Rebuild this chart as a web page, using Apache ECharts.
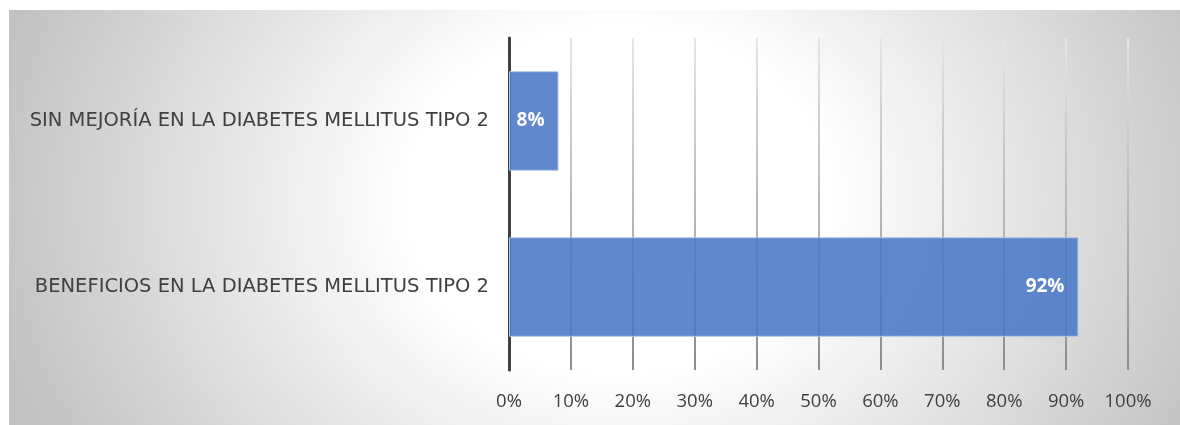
<!DOCTYPE html>
<html><head><meta charset="utf-8">
<script src="https://cdn.jsdelivr.net/npm/echarts@6/dist/echarts.min.js"></script>
<style>
html,body{margin:0;padding:0;background:#fff;}
#bg{position:absolute;left:9px;top:10px;width:1171px;height:415px;
background:radial-gradient(ellipse 640px 520px at 610px 190px,#ffffff 0%,#ffffff 33%,#c2c2c2 100%);}
#c{position:absolute;left:0;top:0;width:1180px;height:425px;}
</style></head>
<body><div id="bg"></div><div id="c"></div>
<script>
const categories = ['BENEFICIOS EN LA DIABETES MELLITUS TIPO 2', 'SIN MEJORÍA EN LA DIABETES MELLITUS TIPO 2'];
const values = [92, 8];
const xTicks = [0, 10, 20, 30, 40, 50, 60, 70, 80, 90, 100];

const chart = echarts.init(document.getElementById('c'));
chart.setOption({
  backgroundColor: 'transparent',
  animation: false,
  grid: {left: 509, right: 52, top: 38, bottom: 55},
  xAxis: {
    type: 'value', min: xTicks[0], max: xTicks[xTicks.length-1], interval: 10,
    axisLine: {show: false}, axisTick: {show: false},
    axisLabel: {formatter: v => v + '%', color: '#404040', fontSize: 18.5, fontFamily: 'Open Sans', margin: 22},
    splitLine: {show: true, lineStyle: {width: 2, color: new echarts.graphic.LinearGradient(0, 38, 0, 370, [
      {offset: 0, color: '#e6e6e6'}, {offset: 1, color: '#8c8c8c'}], true)}}
  },
  yAxis: {
    type: 'category', data: categories,
    axisLine: {show: true, lineStyle: {color: '#404040', width: 3}},
    axisTick: {show: false},
    axisLabel: {color: '#404040', fontSize: 19.5, fontFamily: 'DejaVu Sans', margin: 20}
  },
  series: [{
    type: 'bar', data: values, barWidth: '60%',
    itemStyle: {color: 'rgba(74,120,200,0.88)', borderColor: '#b4c6e7', borderWidth: 1},
    label: {show: true, position: 'insideRight', formatter: p => p.value + '%', color: '#fff',
      fontWeight: 'bold', fontSize: 19, fontFamily: 'Open Sans', distance: 14}
  }]
});
</script></body></html>
